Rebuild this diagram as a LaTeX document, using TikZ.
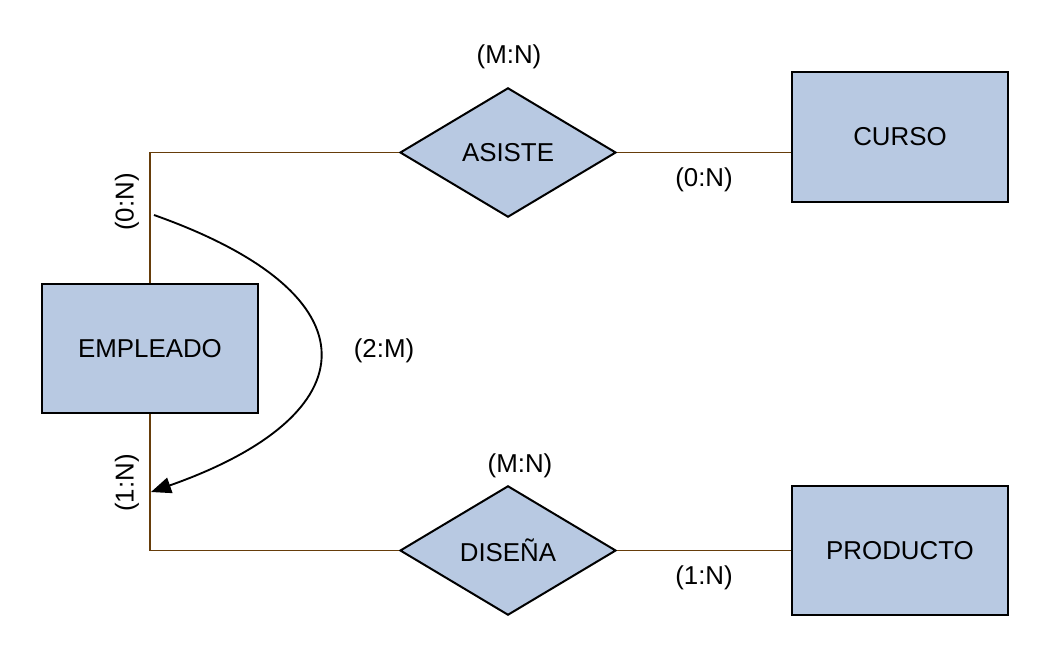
\documentclass[tikz,border=0pt]{standalone}
\usepackage{fontspec}
\setmainfont{Liberation Sans}
\usetikzlibrary{shapes.geometric,arrows.meta}
\definecolor{boxfill}{HTML}{B8C9E2}
\definecolor{linkbrown}{HTML}{663D0A}
\tikzset{
  entity/.style={draw=black, line width=1.5pt, fill=boxfill, minimum width=162pt, minimum height=97pt, inner sep=0pt, font=\fontsize{19.4}{23}\selectfont},
  relation/.style={diamond, draw=black, line width=1.5pt, fill=boxfill, minimum width=162pt, minimum height=97pt, aspect=1.67, inner sep=0pt, font=\fontsize{19.4}{23}\selectfont},
  link/.style={draw=linkbrown, line width=1.4pt},
  card/.style={font=\fontsize{19.4}{23}\selectfont, inner sep=0pt},
  selfarc/.style={draw=black, line width=1.4pt, -{Triangle[length=15pt,width=12pt]}}
}
\begin{document}
\begin{tikzpicture}[x=0.75pt,y=-0.75pt]
\useasboundingbox (0,0) rectangle (1064,665);
\node[entity] (emp) at (150,348.5) {EMPLEADO};
\node[entity] (curso) at (900,137) {CURSO};
\node[entity] (prod) at (900,550.5) {PRODUCTO};
\node[relation] (asiste) at (508,152.5) {ASISTE};
\node[relation] (disena) at (508,550.5) {DISEÑA};
\coordinate (tl) at (150,152.5);
\coordinate (bl) at (150,550.5);
\draw[link] (emp.north) -- (tl) -- (asiste.west);
\draw[link] (asiste.east) -- (curso.west |- asiste.east);
\draw[link] (emp.south) -- (bl) -- (disena.west);
\draw[link] (disena.east) -- (prod.west);
\coordinate (arcstart) at (154,215);
\coordinate (arcend) at (151,492);
\draw[selfarc] (arcstart) .. controls (380,295) and (370,415) .. (arcend);
\node[card] (c1) at (509,57) {(M:N)};
\node[card] (c2) at (704,180) {(0:N)};
\node[card, rotate=90] (c3) at (127,202) {(0:N)};
\node[card] (c4) at (384,351) {(2:M)};
\node[card, rotate=90] (c5) at (127,483) {(1:N)};
\node[card] (c6) at (520,466) {(M:N)};
\node[card] (c7) at (704,578) {(1:N)};
\end{tikzpicture}
\end{document}
